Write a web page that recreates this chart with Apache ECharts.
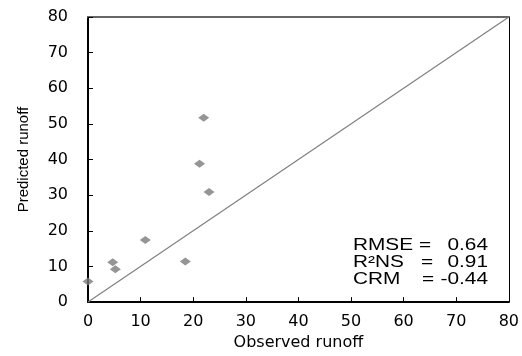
<!DOCTYPE html>
<html>
<head>
<meta charset="utf-8">
<script src="https://cdn.jsdelivr.net/npm/echarts@6/dist/echarts.min.js"></script>
<style>
html,body{margin:0;padding:0;background:#fff;}
#chart{width:522px;height:356px;}
</style>
</head>
<body>
<div id="chart"></div>
<script>
// Data
var observed = [0, 4.7, 5.2, 10.9, 18.5, 23.0, 21.2, 22.0];
var predicted = [5.8, 11.2, 9.2, 17.4, 11.4, 30.9, 38.8, 51.7];
var lineX = [0, 80];
var lineY = [0, 80];
var xTitle = 'Observed runoff';
var yTitle = 'Predicted runoff';
var statNames = ['RMSE', 'R\u00b2NS', 'CRM'];
var statValues = ['0.64', '0.91', '-0.44'];

var points = observed.map(function (x, i) { return [x, predicted[i]]; });
var diag = lineX.map(function (x, i) { return [x, lineY[i]]; });

var chart = echarts.init(document.getElementById('chart'), null, {renderer: 'canvas'});

var tickFont = {color: '#000', fontFamily: 'DejaVu Sans', fontSize: 16};

var graphics = [];
var lineYs = [246, 263, 280];
var eqX = [425, 427, 428];
statNames.forEach(function (n, i) {
  graphics.push({type: 'text', x: 353, y: lineYs[i], scaleX: 1.3, z: 100,
    style: {text: n, font: '16px "Liberation Sans"', fill: '#000', textAlign: 'left', textVerticalAlign: 'middle'}});
  graphics.push({type: 'text', x: eqX[i], y: lineYs[i], scaleX: 1.3, z: 100,
    style: {text: '=', font: '16px "Liberation Sans"', fill: '#000', textAlign: 'center', textVerticalAlign: 'middle'}});
  graphics.push({type: 'text', x: 488, y: lineYs[i], scaleX: 1.3, z: 100,
    style: {text: statValues[i], font: '16px "Liberation Sans"', fill: '#000', textAlign: 'right', textVerticalAlign: 'middle'}});
});

chart.setOption({
  animation: false,
  backgroundColor: '#fff',
  grid: {left: 88, right: 12, top: 17, bottom: 50, containLabel: false},
  xAxis: [{
    type: 'value', min: 0, max: 80, interval: 10, position: 'bottom',
    name: xTitle, nameLocation: 'middle', nameGap: 32,
    nameTextStyle: {color: '#000', fontFamily: 'DejaVu Sans', fontSize: 16},
    axisLine: {show: true, onZero: false, lineStyle: {color: '#000', width: 2}},
    axisTick: {show: true, inside: true, length: 5, lineStyle: {color: '#000', width: 1}},
    axisLabel: Object.assign({margin: 12}, tickFont),
    splitLine: {show: false}
  }, {
    type: 'value', min: 0, max: 80, interval: 10, position: 'top',
    axisLine: {show: true, onZero: false, lineStyle: {color: '#666', width: 2}},
    axisTick: {show: false}, axisLabel: {show: false}, splitLine: {show: false}
  }],
  yAxis: [{
    type: 'value', min: 0, max: 80, interval: 10, position: 'left',
    name: yTitle, nameLocation: 'middle', nameGap: 57,
    nameTextStyle: {color: '#000', fontFamily: 'Liberation Sans', fontSize: 15},
    axisLine: {show: true, onZero: false, lineStyle: {color: '#000', width: 2}},
    axisTick: {show: true, inside: true, length: 5, lineStyle: {color: '#000', width: 1}},
    axisLabel: Object.assign({margin: 20}, tickFont),
    splitLine: {show: false}
  }, {
    type: 'value', min: 0, max: 80, interval: 10, position: 'right',
    axisLine: {show: true, onZero: false, lineStyle: {color: '#000', width: 1}},
    axisTick: {show: false}, axisLabel: {show: false}, splitLine: {show: false}
  }],
  series: [{
    type: 'line', data: diag, xAxisIndex: 0, yAxisIndex: 0,
    showSymbol: false, symbol: 'none',
    lineStyle: {color: '#808080', width: 1.2}, z: 2, silent: true
  }, {
    type: 'scatter', data: points, xAxisIndex: 0, yAxisIndex: 0,
    symbol: 'diamond', symbolSize: [11, 8],
    itemStyle: {color: '#7a7a7a'}, z: 3
  }],
  graphic: graphics
});
</script>
</body>
</html>
